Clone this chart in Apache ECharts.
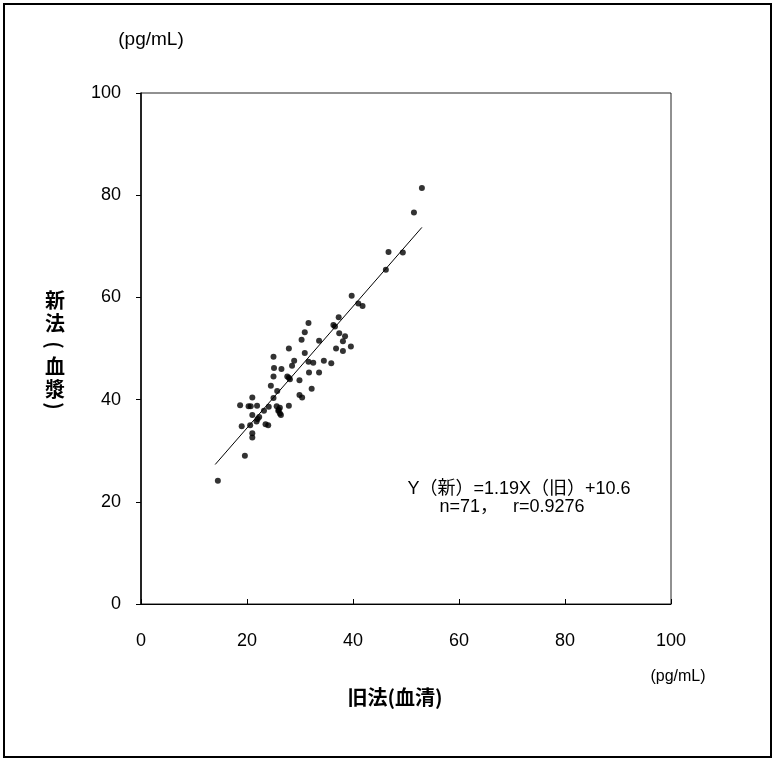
<!DOCTYPE html>
<html><head><meta charset="utf-8">
<script src="https://cdn.jsdelivr.net/npm/echarts@6/dist/echarts.min.js"></script>
<style>html,body{margin:0;padding:0;background:#fff}#c{width:775px;height:762px}</style>
</head><body><div id="c"></div>
<script>
// Old method (serum) values, x
const oldVals = [39.75,41.0,41.8,37.3,31.6,36.3,36.6,30.9,37.4,38.5,38.1,30.3,33.6,39.6,36.8,38.1,27.9,30.9,25.0,28.9,31.6,32.5,34.5,35.9,28.5,25.1,26.5,31.7,33.6,25.0,27.6,28.1,29.9,24.5,32.2,25.7,29.9,30.4,25.0,21.0,18.7,20.7,21.9,24.1,25.6,26.2,27.9,23.2,25.9,26.2,21.0,22.3,26.4,21.8,23.5,24.0,19.0,20.6,21.0,21.0,19.6,14.5,53.0,51.5,46.7,49.4,46.2,26.0,27.9,22.0,20.3];
// New method (plasma) values, y
const newVals = [60.3,58.8,58.3,56.1,55.0,54.6,54.3,53.2,53.0,52.4,51.4,51.7,51.5,50.4,50.0,49.5,50.0,49.1,48.4,47.6,47.4,47.2,47.6,47.1,46.6,46.2,46.0,45.3,45.3,44.5,44.5,44.0,43.8,42.7,42.1,41.7,40.9,40.4,40.3,40.4,38.9,38.7,38.8,38.6,38.7,38.4,38.8,37.8,37.8,37.3,37.0,36.6,37.0,35.7,35.2,35.0,34.8,35.0,33.4,32.6,29.0,24.1,81.4,76.6,68.9,68.8,65.4,38.0,44.3,36.2,38.7];
// regression line endpoints
const fitX = [14, 53];
const fitY = [27.3, 73.7];
const xTicks = [0, 20, 40, 60, 80, 100];
const yTicks = [0, 20, 40, 60, 80, 100];

const pts = oldVals.map((v, i) => [v, newVals[i]]);
const fit = fitX.map((v, i) => [v, fitY[i]]);
const LAT = '"Liberation Sans", Arial, "Noto Sans CJK JP", sans-serif';
const CJK = '"Noto Sans CJK JP", sans-serif';

function t(x, y, text, font, extra) {
  return Object.assign({type: 'text', x: x, y: y,
    style: {text: text, font: font, fill: '#000', textAlign: 'center', textVerticalAlign: 'middle'}}, extra || {});
}

const chart = echarts.init(document.getElementById('c'), null, {renderer: 'canvas'});
chart.setOption({
  animation: false,
  backgroundColor: '#fff',
  grid: {left: 141, top: 93, width: 530, height: 511, show: true, borderColor: '#222', borderWidth: 1},
  xAxis: {
    type: 'value', min: 0, max: 100, interval: 20,
    axisLine: {show: true, lineStyle: {color: '#000', width: 1}},
    axisTick: {show: true, inside: true, length: 5, lineStyle: {color: '#000'}},
    splitLine: {show: false},
    axisLabel: {color: '#000', fontSize: 18, fontFamily: LAT, margin: 28,
      formatter: v => xTicks.includes(v) ? String(v) : ''}
  },
  yAxis: {
    type: 'value', min: 0, max: 100, interval: 20,
    axisLine: {show: true, lineStyle: {color: '#000', width: 1.5}},
    axisTick: {show: true, inside: false, length: 5, lineStyle: {color: '#000'}},
    splitLine: {show: false},
    axisLabel: {color: '#000', fontSize: 18, fontFamily: LAT, margin: 20,
      formatter: v => yTicks.includes(v) ? String(v) : ''}
  },
  series: [
    {type: 'scatter', data: pts, symbol: 'circle', symbolSize: 6, itemStyle: {color: '#000'}, z: 3},
    {type: 'line', data: fit, showSymbol: false, lineStyle: {color: '#000', width: 1}, z: 2}
  ],
  graphic: [
    {type: 'rect', shape: {x: 4, y: 4, width: 767, height: 753}, style: {fill: 'none', stroke: '#000', lineWidth: 2}},
    t(151, 40, '(pg/mL)', '19px ' + LAT),
    t(678, 677, '(pg/mL)', '16px ' + LAT),
    t(395, 697, '旧法(血清)', 'bold 20px ' + CJK),
    t(55, 300, '新', 'bold 20px ' + CJK),
    t(55, 323, '法', 'bold 20px ' + CJK),
    t(55, 345, '(', 'bold 20px ' + CJK, {rotation: -Math.PI / 2}),
    t(55, 366, '血', 'bold 20px ' + CJK),
    t(55, 389, '漿', 'bold 20px ' + CJK),
    t(55, 406, ')', 'bold 20px ' + CJK, {rotation: -Math.PI / 2}),
    t(519, 489, 'Y（新）=1.19X（旧）+10.6', '18px ' + LAT),
    t(512, 507, 'n=71，   r=0.9276', '18px ' + LAT)
  ]
});
</script></body></html>
